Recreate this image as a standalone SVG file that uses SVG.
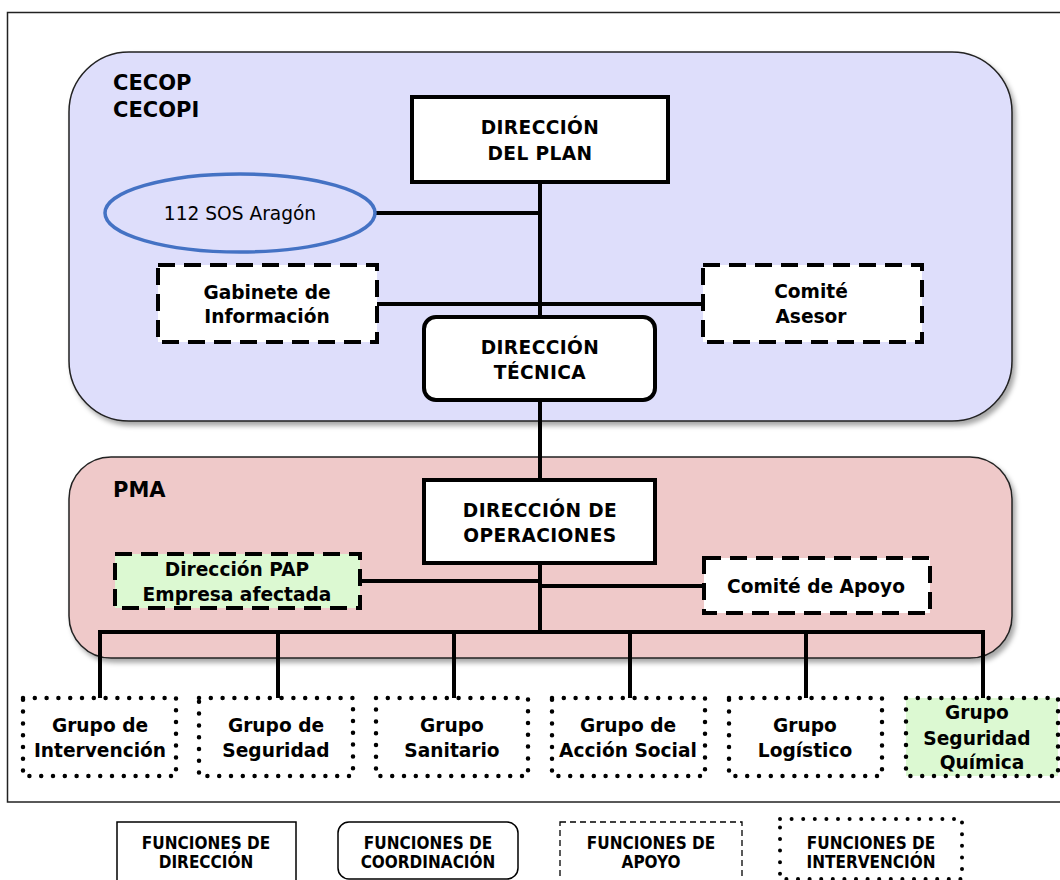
<svg xmlns="http://www.w3.org/2000/svg" width="1060" height="880" viewBox="0 0 1060 880">
<defs>
<filter id="sh" x="-5%" y="-5%" width="110%" height="115%">
<feDropShadow dx="3" dy="4" stdDeviation="2.5" flood-color="#000" flood-opacity="0.35"/>
</filter>
<style>
.panel{stroke:#222;stroke-width:1.5}
.solid{fill:#fff;stroke:#000;stroke-width:4}
.dash{fill:#fff;stroke:#000;stroke-width:4;stroke-dasharray:17 9}
.dot{fill:#fff;stroke:#000;stroke-width:4.5;stroke-linecap:round;stroke-dasharray:0 11.8}
.green{fill:#dcf9d2}
.conn{fill:none;stroke:#000;stroke-width:4;stroke-linecap:square}
.t{font-family:"DejaVu Sans",Verdana,sans-serif;font-weight:bold;font-size:18.6px;fill:#000;text-anchor:middle}
.h{letter-spacing:0.4px}
.big{font-family:"DejaVu Sans",Verdana,sans-serif;font-weight:bold;font-size:21px;fill:#000}
.reg{font-family:"DejaVu Sans",Verdana,sans-serif;font-size:18.6px;fill:#000;text-anchor:middle}
.lg{font-family:"DejaVu Sans Condensed","DejaVu Sans",sans-serif;font-weight:bold;font-size:17px;fill:#000;text-anchor:middle}
</style>
</defs>
<rect x="7.5" y="12.5" width="1060" height="789.5" fill="#fff" stroke="#222" stroke-width="1.5"/>

<g id="panel-cecop">
<rect class="panel" x="69" y="52" width="943" height="369" rx="60" fill="#dedefb" filter="url(#sh)"/>
<text class="big" x="113" y="90">CECOP</text>
<text class="big" x="113" y="117">CECOPI</text>
</g>
<g id="panel-pma">
<rect class="panel" x="69" y="457" width="943" height="201" rx="42" fill="#efc9c9" filter="url(#sh)"/>
<text class="big" x="113" y="497">PMA</text>
</g>

<g id="connectors">
<path class="conn" d="M540 182V480M540 563V632"/>
<path class="conn" d="M375 213H540"/>
<path class="conn" d="M377 304H702"/>
<path class="conn" d="M360 581H540"/>
<path class="conn" d="M540 586H704"/>
<path class="conn" d="M100 632H983"/>
<path class="conn" d="M100 632V698M278 632V698M454 632V698M630 632V698M806 632V698M983 632V698"/>
</g>

<g id="n-direccion-plan">
<rect class="solid" x="412" y="97" width="256" height="85"/>
<text class="t h" x="540" y="134">DIRECCIÓN</text>
<text class="t h" x="540" y="160">DEL PLAN</text>
</g>
<g id="n-112">
<ellipse cx="240" cy="213" rx="135" ry="39" fill="#dedefb" stroke="#4472c4" stroke-width="3.5"/>
<text class="reg" x="240" y="220">112 SOS Aragón</text>
</g>
<g id="n-gabinete">
<rect class="dash" x="158" y="265" width="219" height="77"/>
<text class="t" x="267" y="299">Gabinete de</text>
<text class="t" x="267" y="323">Información</text>
</g>
<g id="n-comite-asesor">
<rect class="dash" x="703" y="265" width="219" height="77"/>
<text class="t" x="811" y="298">Comité</text>
<text class="t" x="811" y="323">Asesor</text>
</g>
<g id="n-direccion-tecnica">
<rect class="solid" x="424" y="317" width="231" height="83" rx="12"/>
<text class="t h" x="540" y="354">DIRECCIÓN</text>
<text class="t h" x="540" y="379">TÉCNICA</text>
</g>
<g id="n-direccion-operaciones">
<rect class="solid" x="424" y="480" width="231" height="83"/>
<text class="t h" x="540" y="517">DIRECCIÓN DE</text>
<text class="t h" x="540" y="542">OPERACIONES</text>
</g>
<g id="n-pap">
<rect class="dash green" x="115" y="554" width="245" height="54"/>
<text class="t" x="237" y="576">Dirección PAP</text>
<text class="t" x="237" y="601">Empresa afectada</text>
</g>
<g id="n-comite-apoyo">
<rect class="dash" x="704" y="558" width="226" height="55"/>
<text class="t" x="816" y="593">Comité de Apoyo</text>
</g>

<g id="g-intervencion">
<rect class="dot" x="23" y="698" width="153" height="78"/>
<text class="t" x="100" y="732">Grupo de</text>
<text class="t" x="100" y="757">Intervención</text>
</g>
<g id="g-seguridad">
<rect class="dot" x="199" y="698" width="154" height="78"/>
<text class="t" x="276" y="732">Grupo de</text>
<text class="t" x="276" y="757">Seguridad</text>
</g>
<g id="g-sanitario">
<rect class="dot" x="376" y="698" width="152" height="78"/>
<text class="t" x="452" y="732">Grupo</text>
<text class="t" x="452" y="757">Sanitario</text>
</g>
<g id="g-accion-social">
<rect class="dot" x="552" y="698" width="153" height="78"/>
<text class="t" x="628" y="732">Grupo de</text>
<text class="t" x="628" y="757">Acción Social</text>
</g>
<g id="g-logistico">
<rect class="dot" x="729" y="698" width="153" height="78"/>
<text class="t" x="805" y="732">Grupo</text>
<text class="t" x="805" y="757">Logístico</text>
</g>
<g id="g-seguridad-quimica">
<rect class="dot green" x="906" y="698" width="152" height="78"/>
<text class="t" x="977" y="719">Grupo</text>
<text class="t" x="977" y="745">Seguridad</text>
<text class="t" x="982" y="769">Química</text>
</g>

<g id="legend">
<g id="lg-direccion">
<rect x="117" y="822" width="179" height="70" fill="#fff" stroke="#000" stroke-width="1.5"/>
<text class="lg" x="206" y="849">FUNCIONES DE</text>
<text class="lg" x="206" y="868">DIRECCIÓN</text>
</g>
<g id="lg-coordinacion">
<rect x="338" y="822" width="180" height="57" rx="11" fill="#fff" stroke="#000" stroke-width="1.5"/>
<text class="lg" x="428" y="849">FUNCIONES DE</text>
<text class="lg" x="428" y="868">COORDINACIÓN</text>
</g>
<g id="lg-apoyo">
<rect x="560" y="822" width="182" height="70" fill="#fff" stroke="#000" stroke-width="1.3" stroke-dasharray="6 4"/>
<text class="lg" x="651" y="849">FUNCIONES DE</text>
<text class="lg" x="651" y="868">APOYO</text>
</g>
<g id="lg-intervencion">
<rect x="780" y="819" width="182" height="60" fill="#fff" stroke="#000" stroke-width="4" stroke-linecap="round" stroke-dasharray="0 11.6"/>
<text class="lg" x="871" y="849">FUNCIONES DE</text>
<text class="lg" x="871" y="868">INTERVENCIÓN</text>
</g>
</g>
</svg>
